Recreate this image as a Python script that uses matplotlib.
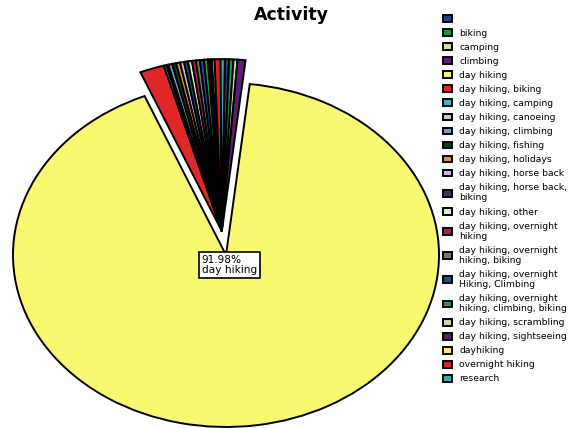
import textwrap
import numpy as np
import matplotlib
matplotlib.use("Agg")
import matplotlib.pyplot as plt

# Activity shares (percent of all responses)
categories = [
    "", "biking", "camping", "climbing", "day hiking",
    "day hiking, biking", "day hiking, camping", "day hiking, canoeing",
    "day hiking, climbing", "day hiking, fishing", "day hiking, holidays",
    "day hiking, horse back", "day hiking, horse back, biking",
    "day hiking, other", "day hiking, overnight hiking",
    "day hiking, overnight hiking, biking",
    "day hiking, overnight Hiking, Climbing",
    "day hiking, overnight hiking, climbing, biking",
    "day hiking, scrambling", "day hiking, sightseeing", "dayhiking",
    "overnight hiking", "research",
]
shares = [
    0.32, 0.33, 0.30, 0.60, 91.98,
    1.85, 0.20, 0.15,
    0.30, 0.30, 0.30,
    0.30, 0.30,
    0.30, 0.30,
    0.30,
    0.30,
    0.30,
    0.15, 0.15, 0.20,
    0.45, 0.32,
]
slice_colors = [
    "#283c8c", "#1e9640", "#d8d8b0", "#5a2070", "#f9f871",
    "#e02828", "#40b8c0", "#c8c8c8",
    "#7898c0", "#103c20", "#e08c30",
    "#d0b8e0", "#1c4858",
    "#d8f0d0", "#b02058",
    "#787878",
    "#2848a0",
    "#209840",
    "#d0d0a8", "#502060", "#f0f070",
    "#e02020", "#40a8a8",
]
highlight = "day hiking"

plt.rcParams["font.family"] = ["DejaVu Sans"]

W, H = 571, 428
fig = plt.figure(figsize=(W / 100, H / 100), dpi=100)

# pie axes: stretched so the pie is drawn as an ellipse
cx, cy = 226, H - 255          # pie centre in pixels
rx, ry = 213, 172              # horizontal / vertical radius in pixels
x0, x1, y0, y1 = -1.1, 1.1, -1.05, 1.35
ax = fig.add_axes([(cx + x0 * rx) / W, (cy + y0 * ry) / H,
                   (x1 - x0) * rx / W, (y1 - y0) * ry / H])

total = sum(shares)
hi = categories.index(highlight)
before = sum(shares[:hi])
start = 83.6 + 360 * before / total

wedges, _ = ax.pie(shares, colors=slice_colors,
                   startangle=start, counterclock=False,
                   wedgeprops=dict(edgecolor="black", linewidth=1.4))

# pull the small slices out together as one block
rest_mid = np.deg2rad(start - 360 * (before + shares[hi]) / total
                      - 180 * (total - shares[hi]) / total)
pull = 0.14
for i, w in enumerate(wedges):
    if i != hi:
        w.set_center((pull * np.cos(rest_mid), pull * np.sin(rest_mid)))

ax.set_aspect("auto")
ax.set_xlim(x0, x1)
ax.set_ylim(y0, y1)
ax.axis("off")

pct = shares[hi] / total * 100
ax.text(0.016, 0.0, f"{pct:.2f}%\n{highlight}", ha="center", va="top",
        multialignment="left", fontsize=7.6, linespacing=1.05,
        bbox=dict(boxstyle="square,pad=0.25", facecolor="white",
                  edgecolor="black", linewidth=1.2), zorder=5)

fig.text(291 / W, 1 - 15 / H, "Activity", ha="center", va="center",
         fontsize=12.5, fontweight="bold")

labels = [textwrap.fill(c, 24) for c in categories]
leg = fig.legend(wedges, labels, loc="upper left",
                 bbox_to_anchor=(443 / W, 1 - 15 / H),
                 bbox_transform=fig.transFigure, frameon=False,
                 borderpad=0, borderaxespad=0, fontsize=6.7,
                 handlelength=0.95, handleheight=0.75, handletextpad=0.8,
                 labelspacing=0.54)
for t in leg.get_texts():
    t.set_linespacing(1.17)

fig.savefig("out.png", dpi=100)
